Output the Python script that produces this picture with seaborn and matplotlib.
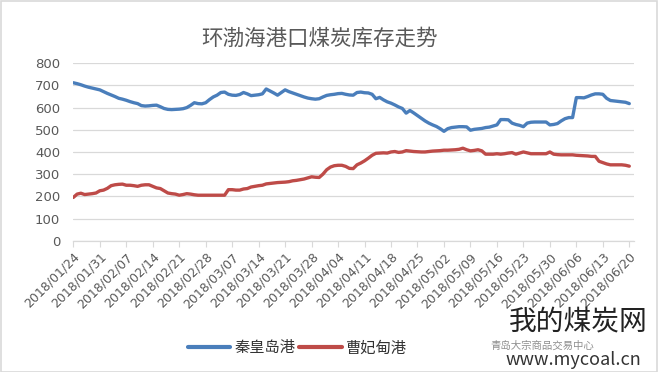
import matplotlib
matplotlib.use("Agg")
import matplotlib.pyplot as plt
import seaborn as sns
import pandas as pd
from matplotlib.patches import Rectangle
from matplotlib.lines import Line2D

# ---- data -------------------------------------------------------------
tick_labels = ["2018/01/24", "2018/01/31", "2018/02/07", "2018/02/14", "2018/02/21",
               "2018/02/28", "2018/03/07", "2018/03/14", "2018/03/21", "2018/03/28",
               "2018/04/04", "2018/04/11", "2018/04/18", "2018/04/25", "2018/05/02",
               "2018/05/09", "2018/05/16", "2018/05/23", "2018/05/30", "2018/06/06",
               "2018/06/13", "2018/06/20"]

qinhuangdao = [712, 708, 703, 697, 692, 688, 684, 680, 672, 664,
               657, 650, 642, 638, 633, 627, 622, 618, 609, 607,
               608, 610, 611, 604, 596, 592, 591, 592, 593, 595,
               600, 610, 622, 618, 617, 622, 636, 648, 656, 668,
               670, 660, 656, 655, 659, 668, 662, 654, 656, 658,
               662, 684, 675, 666, 656, 668, 680, 672, 666, 660,
               654, 648, 643, 640, 638, 640, 648, 655, 658, 660,
               663, 664, 660, 657, 656, 668, 670, 667, 666, 660,
               640, 646, 635, 626, 620, 612, 603, 596, 575, 587,
               576, 564, 552, 540, 530, 522, 515, 505, 493, 505,
               510, 512, 514, 514, 513, 498, 502, 504, 506, 510,
               512, 517, 522, 546, 546, 545, 530, 524, 520, 514,
               530, 534, 535, 535, 535, 535, 522, 524, 528, 540,
               550, 555, 555, 645, 645, 644, 650, 657, 662, 662,
               660, 642, 632, 630, 628, 626, 624, 618]

caofeidian = [195, 210, 214, 208, 210, 212, 215, 225, 228, 236,
              248, 252, 254, 255, 250, 250, 248, 245, 250, 252,
              252, 245, 238, 235, 225, 215, 212, 210, 205, 208,
              212, 210, 207, 205, 205, 205, 205, 205, 205, 205,
              205, 230, 230, 228, 228, 233, 235, 242, 245, 248,
              250, 256, 258, 260, 262, 263, 264, 266, 270, 272,
              275, 278, 283, 288, 286, 285, 300, 320, 332, 338,
              340, 340, 335, 326, 325, 342, 350, 360, 372, 385,
              394, 395, 396, 395, 400, 402, 398, 400, 406, 404,
              402, 401, 400, 400, 402, 404, 405, 406, 408, 408,
              409, 410, 412, 417, 410, 405, 407, 410, 405, 390,
              390, 390, 392, 390, 392, 395, 397, 390, 395, 400,
              396, 392, 392, 392, 392, 392, 400, 390, 388, 387,
              387, 387, 387, 385, 384, 383, 382, 380, 380, 358,
              352, 346, 342, 342, 342, 342, 340, 336]

series_names = ["秦皇岛港", "曹妃甸港"]
title = "环渤海港口煤炭库存走势"

# ---- build table ------------------------------------------------------
n = len(qinhuangdao)
df = pd.DataFrame({
    "day": list(range(n)) * 2,
    "value": qinhuangdao + caofeidian,
    "port": [series_names[0]] * n + [series_names[1]] * n,
})

sns.set_theme(style="white")
plt.rcParams["font.family"] = ["Noto Sans CJK SC", "DejaVu Sans"]

fig = plt.figure(figsize=(6.58, 3.72), dpi=100)
ax = fig.add_axes([0.1105, 0.353, 0.853, 0.477])

sns.lineplot(data=df, x="day", y="value", hue="port",
             palette=["#4A7EBB", "#BE4B48"], linewidth=2.4, ax=ax,
             legend=False)

ax.set_xlim(-0.16, 148.24)
ax.set_ylim(0, 800)
ax.set_yticks(range(0, 801, 100))
ax.yaxis.grid(True, color="#D9D9D9", linewidth=0.9)
ax.xaxis.grid(False)
ax.set_xlabel("")
ax.set_ylabel("")

tick_pos = [7 * i for i in range(len(tick_labels))]
ax.set_xticks(tick_pos)
ax.set_xticklabels(tick_labels, rotation=45, ha="right", rotation_mode="anchor",
                   fontsize=9, color="#595959", family=["DejaVu Sans"])
ax.tick_params(axis="x", length=4, width=0.8, color="#D9D9D9", pad=3, direction="out",
               bottom=True)
ax.tick_params(axis="y", length=0, pad=9, labelsize=9.5, labelcolor="#595959")
for lab in ax.get_yticklabels():
    lab.set_family(["DejaVu Sans"])

for s in ["top", "right", "left"]:
    ax.spines[s].set_visible(False)
ax.spines["bottom"].set_color("#D9D9D9")
ax.spines["bottom"].set_linewidth(0.9)

fig.text(0.485, 0.897, title, ha="center", va="center", fontsize=15.5,
         color="#595959")

# legend
handles = [Line2D([], [], color="#4A7EBB", linewidth=3),
           Line2D([], [], color="#BE4B48", linewidth=3)]
leg = fig.legend(handles, series_names, loc="center", bbox_to_anchor=(0.452, 0.065),
                 ncol=2, frameon=False, fontsize=11, handlelength=2.8,
                 columnspacing=0.2, handletextpad=0.3)
for t in leg.get_texts():
    t.set_color("#333333")

# watermark text
fig.text(0.985, 0.135, "我的煤炭网", ha="right", va="center", fontsize=20,
         color="#222222")
fig.text(0.745, 0.072, "青岛大宗商品交易中心", ha="left", va="center", fontsize=7.5,
         color="#444444", alpha=0.6)
fig.text(0.975, 0.032, "www.mycoal.cn", ha="right", va="center", fontsize=13,
         color="#333333")

# border
fig.patches.append(Rectangle((0.001, 0.001), 0.997, 0.996, transform=fig.transFigure,
                             fill=False, edgecolor="#D9D9D9", linewidth=1.2))

fig.savefig("out.png", dpi=100, facecolor="white")
